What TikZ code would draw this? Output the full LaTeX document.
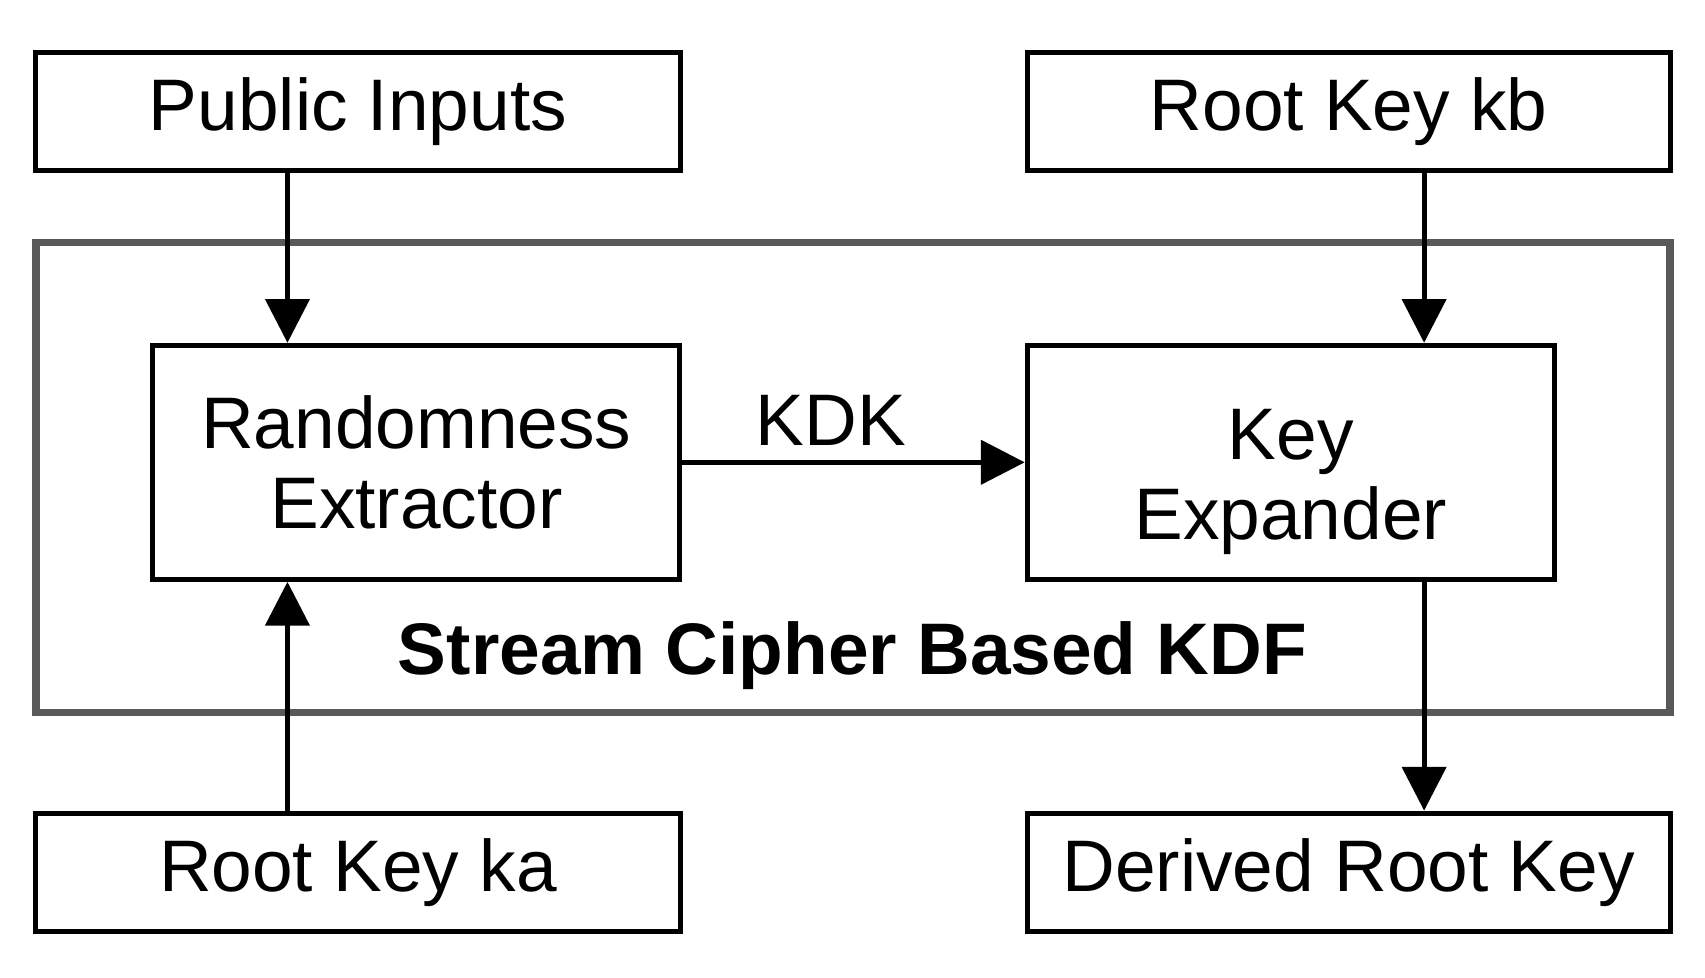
\documentclass[tikz,border=0pt]{standalone}
\usepackage{fontspec}
\setmainfont{Liberation Sans}
\usetikzlibrary{arrows.meta}
\begin{document}
\begin{tikzpicture}[x=0.01cm,y=-0.01cm,
  box/.style={draw,line width=1.3pt,inner sep=0,align=center,font=\fontsize{19}{21}\selectfont},
  arr/.style={line width=1.3pt,-{Triangle[width=0.4cm,length=0.4cm]}},
  lbl/.style={font=\fontsize{19}{21}\selectfont}]
\useasboundingbox (0,0) rectangle (1560,894);
\draw[line width=2pt,draw=black!65] (33,222) rectangle (1528,652);
\node[box,minimum width=5.89cm,minimum height=1.08cm] (pi) at (327.5,102) {Public Inputs};
\node[box,minimum width=5.88cm,minimum height=1.08cm] (kb) at (1234,102) {Root Key kb};
\node[box,minimum width=4.82cm,minimum height=2.14cm] (re) at (381,423) {Randomness\\Extractor};
\node[box,minimum width=4.82cm,minimum height=2.14cm,text depth=1.2cm,text height=0.9cm] (ke) at (1181,423) {};
\node[lbl,align=center] (ket) at (1181,441) {Key\\Expander};
\node[box,minimum width=5.89cm,minimum height=1.08cm] (ka) at (327.5,798) {Root Key ka};
\node[box,minimum width=5.88cm,minimum height=1.08cm] (dr) at (1234,798) {Derived Root Key};
\draw[arr] (pi.south -| 263,0) -- (re.north -| 263,0);
\draw[arr] (ka.north -| 263,0) -- (re.south -| 263,0);
\draw[arr] (kb.south -| 1303,0) -- (ke.north -| 1303,0);
\draw[arr] (ke.south -| 1303,0) -- (dr.north -| 1303,0);
\draw[arr] (re.east) -- (ke.west);
\node[lbl] (kdk) at (760,385) {KDK};
\node[lbl,font=\fontsize{19}{21}\selectfont\bfseries] (sc) at (780,600) {Stream Cipher Based KDF};
\end{tikzpicture}
\end{document}
